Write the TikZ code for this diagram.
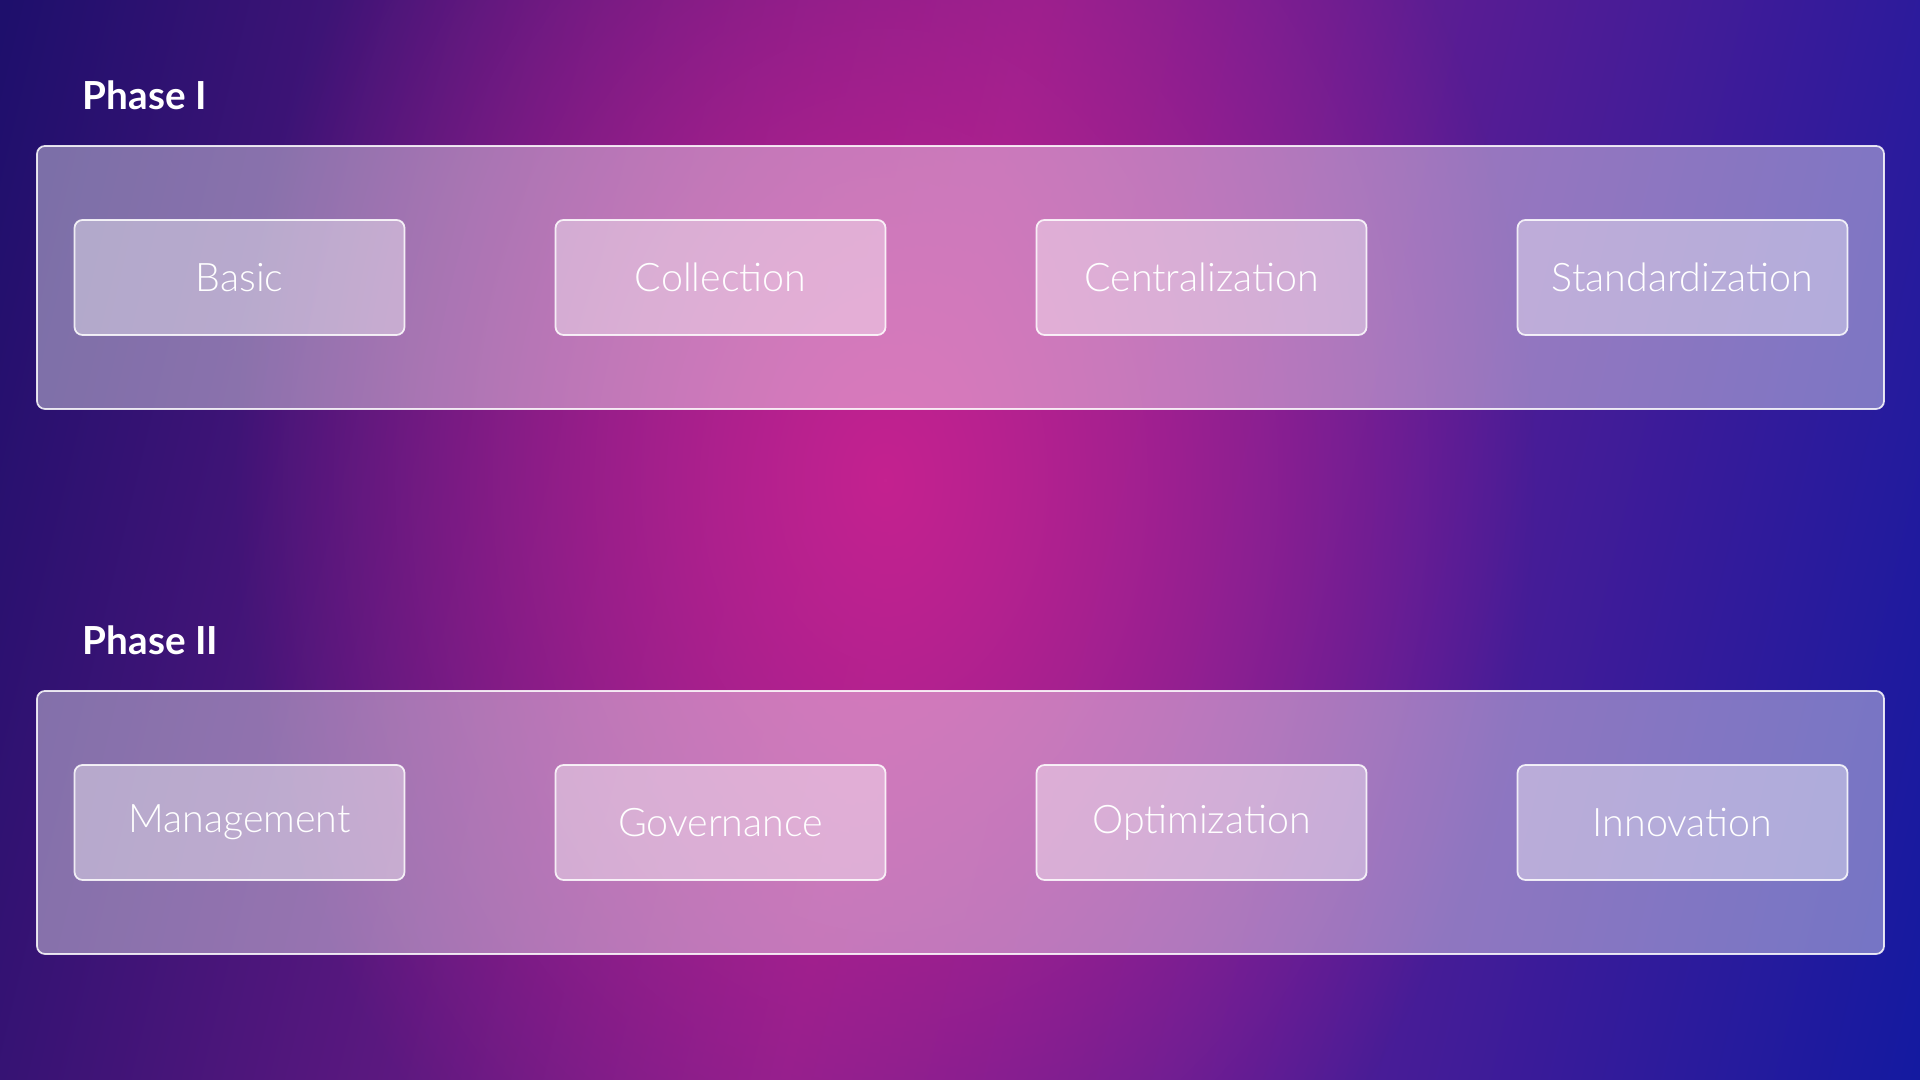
\documentclass[tikz,border=0pt]{standalone}
\usepackage{fontspec}
\setmainfont{Lato}
\IfFontExistsTF{Lato Light}{\newfontfamily\thinfont{Lato Light}}{\newfontfamily\thinfont{Lato}}
\usetikzlibrary{positioning,fadings}
\definecolor{bgdark}{RGB}{30,15,108}
\definecolor{bgmid}{RGB}{130,30,140}
\definecolor{bgblue}{RGB}{20,26,160}
\definecolor{glow}{RGB}{196,34,144}
\pgfdeclarehorizontalshading{stripe}{100bp}{color(0bp)=(bgdark); color(29bp)=(bgdark); color(50bp)=(bgmid); color(73bp)=(bgblue); color(100bp)=(bgblue)}
\tikzfading[name=glowfade, inner color=transparent!0, outer color=transparent!100]
\tikzset{
  panel/.style={
    draw=white, draw opacity=0.85, fill=white, fill opacity=0.4,
    line width=0.5pt, rounded corners=0.08cm, inner sep=0,
    minimum width=18.47cm, minimum height=2.63cm
  },
  tile/.style={
    draw=white, draw opacity=0.85, fill=white, fill opacity=0.4,
    text=white, text opacity=1, line width=0.5pt, rounded corners=0.08cm,
    minimum width=3.3cm, minimum height=1.15cm,
    font=\thinfont\fontsize{11.2}{13}\selectfont
  },
  phase/.style={
    text=white, inner sep=0,
    font=\bfseries\fontsize{11}{13}\selectfont
  }
}

\begin{document}
\begin{tikzpicture}
\useasboundingbox (0,0) rectangle (19.2,10.8);
% background
\begin{scope}
\clip (0,0) rectangle (19.2,10.8);
\shade[shading=stripe, shading angle=-13.3] (9.12,5.4) ++(-12,-12) rectangle ++(24,24);
\fill[glow, path fading=glowfade] (8.85,6.0) ellipse [x radius=6.5cm, y radius=9cm];
\end{scope}
% phases
\node[panel] (p1) at (9.605,8.025) {};
\node[panel] (p2) at (9.605,2.575) {};
\node[phase, above right=0.36cm and 0.46cm of p1.north west, anchor=base west] (h1) {Phase I};
\node[phase, above right=0.36cm and 0.46cm of p2.north west, anchor=base west] (h2) {Phase II};
\foreach [count = \i] \t in {Basic, Collection, Centralization, Standardization}{
\pgfmathsetmacro\dx{0.375+(\i-1)*4.81}
\node[tile, right=\dx cm of p1.west] (a\i) {\t};
}
\foreach [count = \i] \t in {Management, Governance, Optimization, Innovation}{
\pgfmathsetmacro\dx{0.375+(\i-1)*4.81}
\node[tile, right=\dx cm of p2.west] (b\i) {\t};
}
\end{tikzpicture}
\end{document}
